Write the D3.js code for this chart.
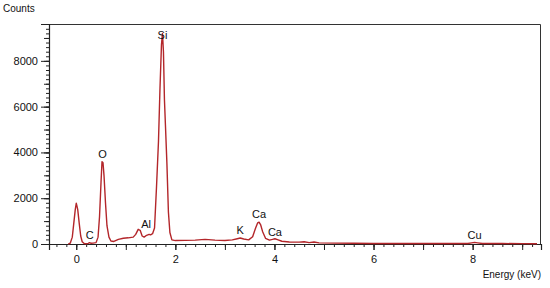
<!DOCTYPE html>
<html>
<head>
<meta charset="utf-8">
<script src="https://cdn.jsdelivr.net/npm/d3@7"></script>
<style>
  body { margin: 0; background: #fff; }
  text { font-family: "Liberation Sans", Arial, sans-serif; fill: #111; }
</style>
</head>
<body>
<div id="chart"></div>
<script>
// spectrum
const energy = [-0.16, -0.12, -0.08, -0.05, -0.02, 0, 0.01, 0.03, 0.06, 0.09, 0.12, 0.16, 0.2, 0.24, 0.27, 0.3, 0.34, 0.4,
  0.44, 0.47, 0.5, 0.52, 0.54, 0.56, 0.59, 0.62, 0.66, 0.7, 0.76, 0.85, 0.95, 1.05, 1.15, 1.2, 1.25, 1.29, 1.33, 1.37,
  1.42, 1.47, 1.5, 1.54, 1.58, 1.62, 1.66, 1.69, 1.72, 1.74, 1.76, 1.78, 1.8, 1.83, 1.86, 1.89, 1.93, 2.0, 2.2, 2.4,
  2.6, 2.8, 3.0, 3.15, 3.25, 3.31, 3.38, 3.48, 3.56, 3.62, 3.66, 3.69, 3.72, 3.76, 3.82, 3.9, 3.96, 4.01, 4.06, 4.15,
  4.3, 4.5, 4.6, 4.7, 4.8, 4.9, 5.2, 5.6, 6.0, 6.5, 7.0, 7.5, 7.9, 7.98, 8.04, 8.1, 8.2, 8.6, 9.0, 9.3];
const counts = [0, 40, 300, 900, 1500, 1780, 1700, 1500, 900, 350, 100, 20, 10, 30, 60, 30, 40, 60,
  300, 1200, 2700, 3600, 3550, 3000, 1800, 800, 300, 130, 110, 200, 250, 270, 300, 420, 640, 600, 350, 300,
  380, 420, 400, 450, 700, 2500, 4500, 6800, 8700, 9200, 8400, 6300, 5200, 3500, 1400, 500, 180, 150, 160, 170,
  200, 170, 150, 180, 230, 260, 220, 180, 320, 700, 920, 950, 850, 550, 250, 170, 200, 230, 190, 120,
  90, 80, 100, 60, 90, 50, 40, 30, 25, 20, 20, 20, 20, 50, 70, 50, 20, 20, 15, 10];

const peakNames = ["C", "O", "Al", "Si", "K", "Ca", "Ca", "Cu"];
const peakEnergy = [0.27, 0.53, 1.49, 1.74, 3.31, 3.69, 4.01, 8.04];
const peakCounts = [60, 3600, 420, 9200, 260, 950, 230, 70];

const yTicks = [0, 2000, 4000, 6000, 8000];
const xTicks = [0, 2, 4, 6, 8];

const margin = { top: 24, right: 9, bottom: 44, left: 49 },
    width = 550 - margin.left - margin.right,
    height = 288 - margin.top - margin.bottom;

const svg = d3.select("#chart").append("svg")
    .attr("width", 550)
    .attr("height", 288);

const chart = svg.append("g")
    .attr("transform", `translate(${margin.left},${margin.top})`);

const x = d3.scaleLinear().domain([-0.55, 9.38]).range([0, width]);
const y = d3.scaleLinear().domain([0, 9610]).range([height, 0]);

// frame top & right
chart.append("path")
    .attr("d", `M0,0.5H${width - 0.5}V${height}`)
    .attr("fill", "none")
    .attr("stroke", "#333")
    .attr("stroke-width", 1);

// minor ticks
chart.append("g")
    .attr("transform", `translate(0,${height})`)
    .call(d3.axisBottom(x).tickValues(d3.range(-0.4, 9.39, 0.2)).tickSize(3).tickFormat(""))
    .call(g => g.select(".domain").remove());
chart.append("g")
    .attr("transform", `translate(0,${height})`)
    .call(d3.axisBottom(x).tickValues(d3.range(0, 10, 1)).tickSize(6).tickFormat(""))
    .call(g => g.select(".domain").remove());
chart.append("g")
    .call(d3.axisLeft(y).tickValues(d3.range(0, 9600, 200)).tickSize(3).tickFormat(""))
    .call(g => g.select(".domain").remove());
chart.append("g")
    .call(d3.axisLeft(y).tickValues(d3.range(0, 9600, 1000)).tickSize(5).tickFormat(""))
    .call(g => g.select(".domain").remove());

// labelled axes
chart.append("g")
    .attr("transform", `translate(0,${height})`)
    .call(d3.axisBottom(x).tickValues(xTicks).tickSize(6).tickPadding(5).tickFormat(d3.format("d")))
    .style("font-size", "11px");
chart.append("g")
    .call(d3.axisLeft(y).tickValues(yTicks).tickSize(8).tickPadding(3).tickFormat(d3.format("d")))
    .style("font-size", "11px");

chart.selectAll(".domain").attr("stroke", "#222").attr("stroke-width", 1.2);
chart.selectAll(".tick line").attr("stroke", "#222");

const line = d3.line()
    .x((d, i) => x(energy[i]))
    .y(d => y(d));

chart.append("path")
    .datum(counts)
    .attr("fill", "none")
    .attr("stroke", "#b3262a")
    .attr("stroke-width", 1.4)
    .attr("stroke-linejoin", "round")
    .attr("d", line);

const labelDy = [-4, -4, -6, 6, -4, -4, -3, -3];
chart.selectAll(".peak")
    .data(peakNames)
    .enter()
    .append("text")
    .attr("class", "peak")
    .attr("x", (d, i) => x(peakEnergy[i]) + (d === "Al" ? -4 : 0))
    .attr("y", (d, i) => d === "Si" ? 15 : y(peakCounts[i]) + labelDy[i])
    .attr("text-anchor", "middle")
    .style("font-size", "11px")
    .text(d => d);

svg.append("text")
    .attr("x", 3)
    .attr("y", 12)
    .style("font-size", "10px")
    .text("Counts");

svg.append("text")
    .attr("x", 541)
    .attr("y", 278)
    .attr("text-anchor", "end")
    .style("font-size", "10px")
    .text("Energy (keV)");
</script>
</body>
</html>
